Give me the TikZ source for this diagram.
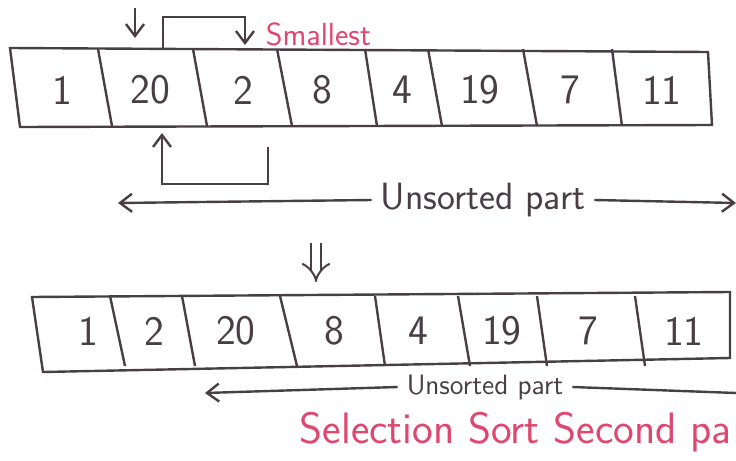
\documentclass[tikz,border=0pt]{standalone}
\usepackage{tikz}
\usetikzlibrary{arrows.meta,calc}
\definecolor{ink}{RGB}{72,62,68}
\definecolor{pen}{RGB}{222,72,112}

\begin{document}
\begin{tikzpicture}[x=0.5pt,y=-0.5pt,line width=1.2pt,ink,
    >={Straight Barb[length=6pt,width=9pt]},
    num/.style={font=\sffamily\fontsize{21}{24}\selectfont,text=ink},
    note/.style={font=\sffamily\fontsize{#1}{#1}\selectfont,text=pen},
    part/.style={font=\sffamily\fontsize{#1}{#1}\selectfont,text=ink,inner sep=4pt}]
            \useasboundingbox (0,0) rectangle (736,461);
            % first pass
            \draw (10,48) -- (708,52) -- (712,125) -- (20,127) -- cycle;
            \foreach \t/\b in {98/112,193/207,277/292,365/377,428/442,523/537,612/622}
                \draw (\t,49) -- (\b,126);
            \foreach \v/\x [count=\i] in {1/62,20/150,2/243,8/322,4/402,19/480,7/570,11/662}
                \node[num] (a\i) at (\x,90) {\v};
            \coordinate (p1) at (135,8);
            \coordinate (p2) at (135,38);
            \draw[->] (p1) -- (p2);
            \coordinate (s1) at (163,50);
            \coordinate (s2) at (245,45);
            \draw[->] (s1) -- (163,17) -| (s2);
            \node[note=16, anchor=west] (sm) at (258,34) {Smallest};
            \coordinate (b1) at (268,147);
            \coordinate (b2) at (162,133);
            \draw[->] (b1) |- (162,184) -- (b2);
            \node[part=19] (ut) at (483,200) {Unsorted part};
            \coordinate (ul) at (118,203);
            \coordinate (ur) at (736,203);
            \draw[->] (ut.west) -- (ul);
            \draw[->] (ut.east) -- (ur);
            % second pass
            \draw (32,297) -- (730,292) -- (730,358) -- (43,372) -- cycle;
            \foreach \t/\b in {110/125,182/195,280/297,375/385,458/470,537/547,635/645}
                \draw (\t,296) -- (\b,366);
            \foreach \v/\x [count=\i] in {1/88,2/154,20/236,8/334,4/418,19/502,7/588,11/684}
                \node[num] (c\i) at (\x,331) {\v};
            \coordinate (d1) at (316,243);
            \coordinate (d2) at (316,282);
            \draw[double,double distance=4pt,line width=1pt,-{Implies[length=5pt]}] (d1) -- (d2);
            \node[part=14] (ub) at (485,387) {Unsorted part};
            \coordinate (vl) at (205,393);
            \coordinate (vr) at (736,393);
            \draw[->] (ub.west) -- (vl);
            \draw (ub.east) -- (vr);
            \node[note=22, anchor=west] (ti) at (292,432) {Selection Sort Second pa};
        \end{tikzpicture}
\end{document}
